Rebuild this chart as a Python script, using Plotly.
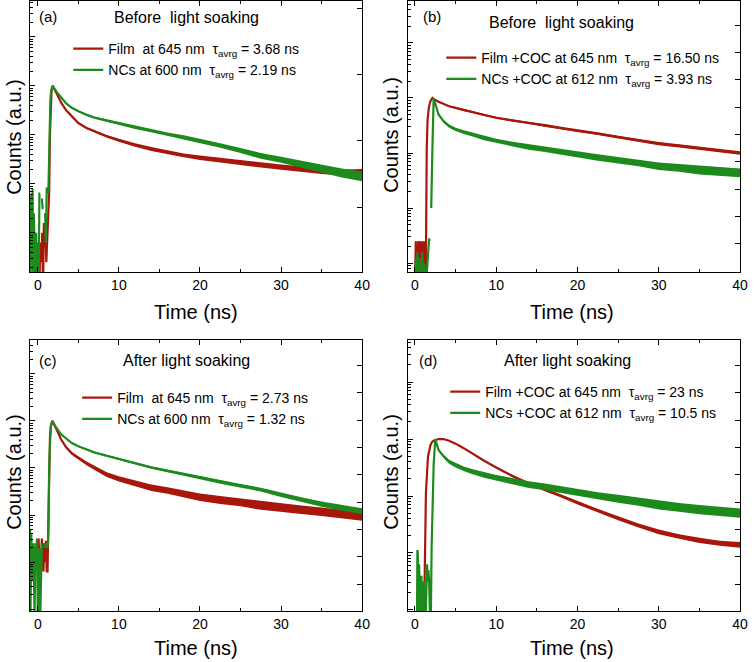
import plotly.graph_objects as go

# ---------------- data (log10 of normalised counts) -------------
T_DECAY = [2.9, 3.5, 4.2, 5, 6, 7, 8.5, 10, 12, 14, 16, 18, 20, 22.5, 25, 27.5, 30, 32.5, 35, 37.5, 40]

# Panel (a) before light soaking
A_FILM_RISE_T = [0.0, 0.1, 0.2, 0.3, 0.45, 0.55, 0.65, 0.75, 0.85, 0.95, 1.05, 1.15, 1.25, 1.3, 1.4, 1.5, 1.6, 1.7, 1.85, 2.3]
A_FILM_RISE = [-4.2, -3.3, -4.2, -3.2, -3.6, -3.0, -4.2, -2.8, -3.3, -2.9, -3.6, -3.1, -3.0, -2.6, -2.2, -1.0, -0.3, -0.1, 0.0, -0.15]
A_FILM_DECAY = [-0.35, -0.50, -0.63, -0.76, -0.86, -0.93, -1.03, -1.11, -1.21, -1.29, -1.36, -1.42, -1.47, -1.52, -1.58, -1.62, -1.66, -1.70, -1.74, -1.77, -1.76]
A_FILM_SPREAD = [0.01, 0.01, 0.01, 0.015, 0.02, 0.02, 0.025, 0.03, 0.035, 0.04, 0.04, 0.04, 0.045, 0.05, 0.05, 0.05, 0.055, 0.06, 0.06, 0.06, 0.06]
A_NC_RISE_T = [-0.95, -0.88, -0.8, -0.72, -0.64, -0.56, -0.48, -0.4, -0.3, -0.2, -0.1, 0.0, 0.1, 0.2, 0.3, 0.4, 0.5, 0.6, 0.7, 0.8, 0.9, 1.0, 1.1, 1.2, 1.3, 1.35, 1.45, 1.55, 1.65, 1.8, 2.3]
A_NC_RISE = [-2.4, -4.2, -2.2, -3.0, -2.1, -4.2, -2.6, -3.3, -4.2, -3.0, -4.2, -3.2, -4.2, -2.2, -2.2, None, -2.3, -2.5, -2.5, None, -2.6, -3.2, -2.1, -2.1, -2.2, -1.8, -0.8, -0.3, -0.1, 0.0, -0.12]
A_NC_DECAY = [-0.25, -0.36, -0.45, -0.52, -0.59, -0.65, -0.71, -0.77, -0.85, -0.92, -0.99, -1.05, -1.13, -1.22, -1.32, -1.43, -1.51, -1.60, -1.69, -1.78, -1.85]
A_NC_SPREAD = [0.01, 0.01, 0.015, 0.015, 0.02, 0.02, 0.025, 0.03, 0.03, 0.03, 0.035, 0.04, 0.04, 0.045, 0.05, 0.06, 0.06, 0.07, 0.08, 0.09, 0.1]

# Panel (b) before light soaking, with COC
B_FILM_RISE_T = [0.0, 0.1, 0.2, 0.3, 0.4, 0.5, 0.6, 0.7, 0.8, 0.9, 1.0, 1.1, 1.2, 1.3, 1.35, 1.45, 1.55, 1.7, 1.9, 2.15, 2.3]
B_FILM_RISE = [-3.5, -2.6, -3.5, -2.7, -2.6, -3.5, -2.6, -2.7, -3.5, -2.6, -3.5, -2.6, -2.7, -3.5, -3.0, -0.9, -0.4, -0.18, -0.06, 0.0, -0.02]
B_FILM_DECAY = [-0.07, -0.11, -0.15, -0.18, -0.22, -0.25, -0.31, -0.36, -0.41, -0.45, -0.50, -0.55, -0.60, -0.65, -0.71, -0.77, -0.83, -0.87, -0.91, -0.95, -1.00]
B_FILM_SPREAD = [0.01, 0.01, 0.015, 0.015, 0.02, 0.02, 0.02, 0.02, 0.02, 0.02, 0.025, 0.025, 0.025, 0.025, 0.025, 0.03, 0.03, 0.03, 0.03, 0.03, 0.03]
B_NC_RISE_T = [0.0, 0.1, 0.2, 0.3, 0.45, 0.55, 0.65, 0.8, 0.9, 1.0, 1.15, 1.3, 1.75, 1.8, 1.85, 2.0, 2.05, 2.15, 2.3]
B_NC_RISE = [-3.5, -2.9, -3.5, -2.8, -3.5, -2.9, -3.5, -3.5, -2.8, -3.5, -3.0, -3.5, -2.55, -2.6, None, -2.0, -1.5, -0.9, 0.0]
B_NC_DECAY = [-0.30, -0.42, -0.51, -0.57, -0.62, -0.66, -0.73, -0.78, -0.84, -0.89, -0.93, -0.98, -1.02, -1.08, -1.13, -1.18, -1.24, -1.27, -1.31, -1.33, -1.36]
B_NC_SPREAD = [0.02, 0.025, 0.03, 0.03, 0.035, 0.035, 0.04, 0.04, 0.045, 0.05, 0.05, 0.05, 0.055, 0.06, 0.06, 0.06, 0.07, 0.07, 0.08, 0.08, 0.08]

# Panel (c) after light soaking
C_FILM_RISE_T = [-0.1, 0.0, 0.1, 0.2, 0.3, 0.4, 0.5, 0.6, 0.7, 0.8, 0.9, 1.0, 1.1, 1.2, 1.3, 1.4, 1.5, 1.6, 1.8, 2.3]
C_FILM_RISE = [-2.7, -3.2, -2.5, -3.0, -2.8, -3.2, -2.5, -2.9, -3.2, -2.6, -3.0, -2.55, -3.2, -3.2, -2.3, -0.9, -0.35, -0.12, 0.0, -0.18]
C_FILM_DECAY = [-0.40, -0.56, -0.69, -0.79, -0.90, -1.00, -1.14, -1.23, -1.33, -1.42, -1.48, -1.55, -1.62, -1.68, -1.73, -1.80, -1.85, -1.89, -1.93, -1.98, -2.03]
C_FILM_SPREAD = [0.02, 0.025, 0.03, 0.035, 0.04, 0.045, 0.05, 0.055, 0.06, 0.07, 0.07, 0.075, 0.08, 0.085, 0.085, 0.09, 0.09, 0.09, 0.09, 0.09, 0.09]
C_NC_RISE_T = [-0.95, -0.9, -0.8, -0.7, -0.6, -0.5, -0.4, -0.3, -0.2, -0.1, 0.0, 0.1, 0.2, 0.3, 0.4, 0.5, 0.6, 0.8, 1.0, 1.2, 1.3, 1.4, 1.5, 1.6, 1.8, 2.3]
C_NC_RISE = [-2.3, -4.2, -2.4, -3.4, -2.6, -3.0, -4.2, -2.6, -3.1, -2.5, -4.2, -3.5, -2.7, -4.2, -3.0, -2.6, None, -2.7, -2.6, -2.7, -2.4, -1.0, -0.35, -0.12, 0.0, -0.15]
C_NC_DECAY = [-0.29, -0.38, -0.47, -0.54, -0.61, -0.67, -0.74, -0.81, -0.90, -0.99, -1.06, -1.13, -1.21, -1.30, -1.38, -1.46, -1.57, -1.67, -1.77, -1.85, -1.92]
C_NC_SPREAD = [0.01, 0.01, 0.01, 0.015, 0.015, 0.02, 0.02, 0.02, 0.025, 0.025, 0.03, 0.03, 0.03, 0.035, 0.04, 0.04, 0.045, 0.05, 0.055, 0.06, 0.065]

# Panel (d) after light soaking, with COC
D_FILM_RISE_T = [1.1, 1.2, 1.35, 1.6, 1.9, 2.1, 2.3]
D_FILM_RISE = [-3.3, -2.4, -0.95, -0.31, -0.11, -0.05, -0.03]
D_FILM_DECAY = [0.0, 0.0, -0.03, -0.08, -0.16, -0.25, -0.38, -0.50, -0.65, -0.78, -0.89, -1.00, -1.12, -1.26, -1.39, -1.52, -1.63, -1.71, -1.78, -1.83, -1.86]
D_FILM_SPREAD = [0.005, 0.005, 0.005, 0.01, 0.01, 0.01, 0.015, 0.015, 0.02, 0.02, 0.025, 0.025, 0.03, 0.03, 0.035, 0.035, 0.04, 0.04, 0.045, 0.045, 0.05]
D_NC_RISE_T = [0.25, 0.3, 0.35, 0.4, 0.5, 0.6, 0.7, 0.8, 0.9, 1.0, 1.1, 1.2, 1.3, 1.5, 1.55, 1.65, 1.75, 1.85, 1.95, 2.05, 2.15, 2.3, 2.5]
D_NC_RISE = [-3.2, -1.95, -2.0, -3.2, -2.2, -2.6, -3.2, -2.4, -3.2, -2.8, -2.5, -3.2, -3.2, -2.2, -2.5, -2.3, -2.5, -3.2, -3.2, -1.9, -1.2, -0.45, 0.0]
D_NC_DECAY = [-0.19, -0.30, -0.40, -0.46, -0.52, -0.57, -0.63, -0.68, -0.74, -0.80, -0.84, -0.89, -0.94, -1.00, -1.05, -1.10, -1.16, -1.20, -1.24, -1.27, -1.30]
D_NC_SPREAD = [0.02, 0.03, 0.035, 0.04, 0.04, 0.045, 0.05, 0.05, 0.055, 0.06, 0.06, 0.06, 0.065, 0.065, 0.07, 0.07, 0.075, 0.075, 0.08, 0.08, 0.08]

PANEL_LABELS = ["(a)", "(b)", "(c)", "(d)"]
PANEL_TITLES = ["Before  light soaking", "Before  light soaking", "After light soaking", "After light soaking"]
FILM_NAMES = ["Film  at 645 nm  τ<sub>avrg</sub> = 3.68 ns",
              "Film +COC at 645 nm  τ<sub>avrg</sub> = 16.50 ns",
              "Film  at 645 nm  τ<sub>avrg</sub> = 2.73 ns",
              "Film +COC at 645 nm  τ<sub>avrg</sub> = 23 ns"]
NC_NAMES = ["NCs at 600 nm  τ<sub>avrg</sub> = 2.19 ns",
            "NCs +COC at 612 nm  τ<sub>avrg</sub> = 3.93 ns",
            "NCs at 600 nm  τ<sub>avrg</sub> = 1.32 ns",
            "NCs +COC at 612 nm  τ<sub>avrg</sub> = 10.5 ns"]

SERIES = [
    ((A_FILM_RISE_T, A_FILM_RISE, A_FILM_DECAY, A_FILM_SPREAD), (A_NC_RISE_T, A_NC_RISE, A_NC_DECAY, A_NC_SPREAD)),
    ((B_FILM_RISE_T, B_FILM_RISE, B_FILM_DECAY, B_FILM_SPREAD), (B_NC_RISE_T, B_NC_RISE, B_NC_DECAY, B_NC_SPREAD)),
    ((C_FILM_RISE_T, C_FILM_RISE, C_FILM_DECAY, C_FILM_SPREAD), (C_NC_RISE_T, C_NC_RISE, C_NC_DECAY, C_NC_SPREAD)),
    ((D_FILM_RISE_T, D_FILM_RISE, D_FILM_DECAY, D_FILM_SPREAD), (D_NC_RISE_T, D_NC_RISE, D_NC_DECAY, D_NC_SPREAD)),
]

# ---------------- layout geometry -------------
W, H = 756, 662
RED = "#A8170C"
GREEN = "#1D8A1D"
FONT = "Liberation Sans, Arial, Helvetica, sans-serif"

# panel boxes in pixels: left, right, top, bottom
BOXES = [(30, 366, 1, 272), (412, 748, 1, 272), (30, 366, 340, 611), (412, 748, 340, 611)]
XRANGES = [[-1.0, 40], [-0.9, 40], [-1.0, 40], [-0.9, 40]]
YRANGES = [[-3.8, 1.73], [-3.16, 1.76], [-4.04, 1.72], [-3.02, 1.74]]
# right-hand (second layer) tick spacing in pixels and offset of first tick above bottom
RIGHT_TICKS = [(66.2, 65), (27.3, 1), (27.3, 27), (27.3, 27)]
LEGEND_POS = [(69, 33), (446, 42), (78, 382), (450, 376)]
LABEL_POS = [(37, 16), (425, 17), (37, 360), (421, 360)]
TITLE_POS = [(188, 18), (567, 22), (188, 361), (574, 360)]
YTITLE_POS = [(14, 137), (395, 135), (14, 472), (395, 472)]
XTITLE_POS = [(198, 312), (578, 312), (198, 648), (578, 648)]


def to_counts(vals):
    return [None if v is None else 10 ** v for v in vals]


fig = go.Figure()
annotations = []
layout = dict(width=W, height=H, margin=dict(l=0, r=0, t=0, b=0),
              paper_bgcolor="white", plot_bgcolor="white", showlegend=True,
              font=dict(family=FONT, color="black"))

for i in range(4):
    n = i + 1
    xa = "x" if n == 1 else f"x{n}"
    ya = "y" if n == 1 else f"y{n}"
    ya2 = f"y{n + 4}"
    left, right, top, bottom = BOXES[i]
    xdom = [left / W, right / W]
    ydom = [1 - bottom / H, 1 - top / H]
    legname = "legend" if n == 1 else f"legend{n}"

    for (rise_t, rise_v, decay_v, spread), color, name in zip(SERIES[i], [RED, GREEN], [FILM_NAMES[i], NC_NAMES[i]]):
        lower = [10 ** (v - s) for v, s in zip(decay_v, spread)]
        upper = [10 ** (v + s) for v, s in zip(decay_v, spread)]
        fig.add_trace(go.Scatter(x=T_DECAY, y=lower, mode="lines", line=dict(width=0, color=color),
                                 showlegend=False, hoverinfo="skip", xaxis=xa, yaxis=ya))
        fig.add_trace(go.Scatter(x=T_DECAY, y=upper, mode="lines", line=dict(width=0, color=color),
                                 fill="tonexty", fillcolor=color, showlegend=False, hoverinfo="skip",
                                 xaxis=xa, yaxis=ya))
        fig.add_trace(go.Scatter(x=list(rise_t) + T_DECAY, y=to_counts(list(rise_v) + list(decay_v)),
                                 mode="lines", line=dict(width=2.2, color=color), name=name,
                                 connectgaps=False, xaxis=xa, yaxis=ya, legend=legname))
    # empty trace so the right-hand layer axis is drawn
    fig.add_trace(go.Scatter(x=[], y=[], xaxis=xa, yaxis=ya2, showlegend=False, hoverinfo="skip"))

    layout["xaxis" if n == 1 else f"xaxis{n}"] = dict(
        domain=xdom, anchor=ya, range=XRANGES[i], dtick=10, tick0=0,
        ticks="inside", ticklen=5, tickwidth=1, tickcolor="black",
        minor=dict(ticks="inside", ticklen=3, dtick=5, tickcolor="black"),
        showline=True, linecolor="black", linewidth=1.2, mirror="ticks",
        showgrid=False, zeroline=False, tickfont=dict(size=14, family=FONT),
    )
    layout["yaxis" if n == 1 else f"yaxis{n}"] = dict(
        domain=ydom, anchor=xa, type="log", range=YRANGES[i], dtick=1,
        ticks="inside", ticklen=5, tickwidth=1, tickcolor="black",
        minor=dict(ticks="inside", ticklen=3, dtick="D1", tickcolor="black"),
        showticklabels=False, showline=True, linecolor="black", linewidth=1.2, mirror=True,
        showgrid=False, zeroline=False,
    )
    px_per_unit, first = RIGHT_TICKS[i]
    height_px = bottom - top
    layout[f"yaxis{n + 4}"] = dict(
        overlaying=ya, anchor=xa, side="right", range=[0, height_px / px_per_unit],
        tick0=first / px_per_unit, dtick=1, ticks="inside", ticklen=5, tickcolor="black",
        showticklabels=False, showline=False, showgrid=False, zeroline=False,
    )
    lx, ly = LEGEND_POS[i]
    layout[legname] = dict(x=lx / W, y=1 - ly / H, xanchor="left", yanchor="top",
                           bgcolor="rgba(0,0,0,0)", borderwidth=0, traceorder="normal",
                           font=dict(size=14, family=FONT, color="black"),
                           tracegroupgap=0, itemwidth=30)

    px_, py_ = LABEL_POS[i]
    annotations.append(dict(text=PANEL_LABELS[i], x=px_ / W, y=1 - py_ / H, xref="paper", yref="paper",
                            xanchor="left", yanchor="middle", showarrow=False, font=dict(size=15)))
    px_, py_ = TITLE_POS[i]
    annotations.append(dict(text=PANEL_TITLES[i], x=px_ / W, y=1 - py_ / H, xref="paper", yref="paper",
                            xanchor="center", yanchor="middle", showarrow=False, font=dict(size=16)))
    px_, py_ = YTITLE_POS[i]
    annotations.append(dict(text="Counts (a.u.)", x=px_ / W, y=1 - py_ / H, xref="paper", yref="paper",
                            xanchor="center", yanchor="middle", textangle=-90, showarrow=False,
                            font=dict(size=20)))
    px_, py_ = XTITLE_POS[i]
    annotations.append(dict(text="Time (ns)", x=px_ / W, y=1 - py_ / H, xref="paper", yref="paper",
                            xanchor="center", yanchor="middle", showarrow=False, font=dict(size=20)))

layout["annotations"] = annotations
fig.update_layout(**layout)
fig.write_html("out.html", config={"displayModeBar": False},
               post_script="document.body.style.margin='0';")
